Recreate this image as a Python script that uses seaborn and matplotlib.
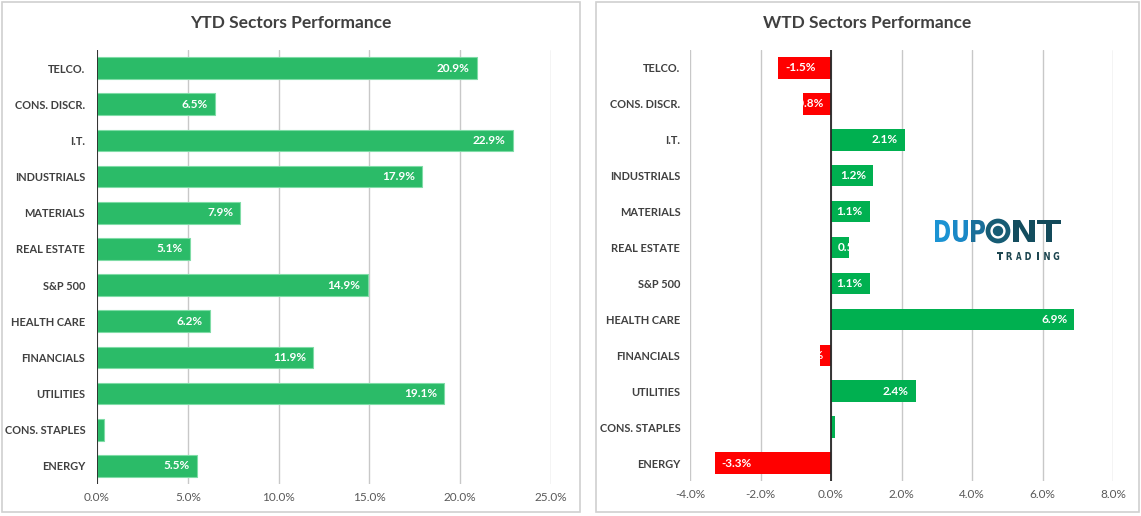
"""
Sector performance - YTD vs WTD horizontal bars
"""

import pandas as pd
import matplotlib.pyplot as plt
import seaborn as sns
from matplotlib.patches import Rectangle, Circle, PathPatch
from matplotlib.textpath import TextPath
from matplotlib.font_manager import FontProperties
from matplotlib.transforms import Affine2D
from matplotlib.ticker import FuncFormatter

# %% data

sectors = ['TELCO.', 'CONS. DISCR.', 'I.T.', 'INDUSTRIALS', 'MATERIALS', 'REAL ESTATE',
           'S&P 500', 'HEALTH CARE', 'FINANCIALS', 'UTILITIES', 'CONS. STAPLES', 'ENERGY']
ytd = [20.9, 6.5, 22.9, 17.9, 7.9, 5.1, 14.9, 6.2, 11.9, 19.1, 0.4, 5.5]
wtd = [-1.5, -0.8, 2.1, 1.2, 1.1, 0.5, 1.1, 6.9, -0.3, 2.4, 0.1, -3.3]

ytd_ticks = [0, 5, 10, 15, 20, 25]
wtd_ticks = [-4, -2, 0, 2, 4, 6, 8]

YTD_GREEN = '#2bbb68'
WTD_GREEN = '#00b050'
WTD_RED = '#ff0000'
TXT = '#404040'

sns.set_theme(style='white')
plt.rcParams['font.family'] = ['Lato', 'DejaVu Sans']

W, H = 1141, 516
fig = plt.figure(figsize=(W / 100, H / 100), dpi=100)
fig.patch.set_facecolor('white')

df_ytd = pd.DataFrame({'sector': sectors, 'value': ytd})
df_wtd = pd.DataFrame({'sector': sectors, 'value': wtd})
df_wtd['sign'] = ['pos' if v >= 0 else 'neg' for v in wtd]


def px_axes(left, top, right, bottom):
    return fig.add_axes([left / W, 1 - bottom / H, (right - left) / W, (bottom - top) / H])


ax1 = px_axes(97, 50, 551, 484)
ax2 = px_axes(690, 50, 1113, 481)

sns.barplot(data=df_ytd, x='value', y='sector', orient='h', color=YTD_GREEN,
            width=0.6, saturation=1, edgecolor='#7fdca6', linewidth=0.8, ax=ax1)
sns.barplot(data=df_wtd, x='value', y='sector', orient='h', hue='sign',
            palette={'pos': WTD_GREEN, 'neg': WTD_RED}, dodge=False, legend=False,
            width=0.6, saturation=1, linewidth=0, ax=ax2)

pct = FuncFormatter(lambda v, _: f'{v:.1f}%')


def style(ax, lim, ticks, ypad):
    ax.set_xlim(lim)
    ax.set_xticks(ticks)
    ax.xaxis.set_major_formatter(pct)
    ax.set_xlabel('')
    ax.set_ylabel('')
    for s in ax.spines.values():
        s.set_visible(False)
    ax.grid(axis='x', color='#c8c8c8', linewidth=1)
    ax.grid(axis='y', visible=False)
    ax.set_axisbelow(True)
    ax.axvline(0, color='#262626', linewidth=1.3, zorder=5)
    ax.tick_params(axis='x', length=0, pad=6, labelsize=8.5, labelcolor='#595959')
    ax.tick_params(axis='y', length=0, pad=ypad, labelsize=7.9, labelcolor=TXT)
    for t in ax.get_yticklabels():
        t.set_fontweight('bold')


style(ax1, (0, 25), ytd_ticks, 8.5)
style(ax2, (-4, 8), wtd_ticks, 7)

# %% value labels inside bar ends, clipped by the bar
fig.canvas.draw()
renderer = fig.canvas.get_renderer()


def label_bars(ax):
    for p in ax.patches:
        w = p.get_width()
        if w != w or w == 0:
            continue
        y = p.get_y() + p.get_height() / 2
        t = ax.annotate(f'{w:.1f}%', xy=(w, y), xytext=(-5 if w > 0 else 5, 0),
                        textcoords='offset points', ha='right' if w > 0 else 'left',
                        va='center', color='white', fontweight='bold', fontsize=8.5,
                        zorder=6)
        tw = t.get_window_extent(renderer).width
        bw = abs(ax.transData.transform((w, 0))[0] - ax.transData.transform((0, 0))[0])
        if tw + 10 > bw:
            # does not fit: anchor at the base instead
            t.xy = (0, y)
            t.set_position((5 if w > 0 else -5, 0))
            t.set_ha('left' if w > 0 else 'right')
        t.set_clip_path(p)


label_bars(ax1)
label_bars(ax2)

# %% overlay in pixel coords: panel frames, titles, logo
ov = fig.add_axes([0, 0, 1, 1], zorder=10)
ov.set_xlim(0, W)
ov.set_ylim(H, 0)
ov.axis('off')
ov.patch.set_alpha(0)

ov.add_patch(Rectangle((1.5, 1.5), 578, 510, fill=False, edgecolor='#d0d0d0', linewidth=1.2))
ov.add_patch(Rectangle((595.5, 1.5), 543, 510, fill=False, edgecolor='#d0d0d0', linewidth=1.2))

ov.text(291, 23, 'YTD Sectors Performance', ha='center', va='center',
        fontsize=12.5, fontweight='bold', color=TXT)
ov.text(867, 23, 'WTD Sectors Performance', ha='center', va='center',
        fontsize=12.5, fontweight='bold', color=TXT)

logo_font = FontProperties(family='DejaVu Sans', weight='bold')


def glyph(ch, x0, x1, y0, y1, color):
    # letter path squeezed into a pixel box (y0 top, y1 bottom)
    tp = TextPath((0, 0), ch, size=1, prop=logo_font)
    ext = tp.get_extents()
    tr = (Affine2D().translate(-ext.x0, -ext.y0)
          .scale((x1 - x0) / ext.width, -(y1 - y0) / ext.height)
          .translate(x0, y1))
    ov.add_patch(PathPatch(tr.transform_path(tp), color=color, linewidth=0))


logo_letters = [('D', 935, 950, '#1b93d3'), ('U', 953, 968, '#1a88c6'),
                ('P', 971, 985, '#1a6f9a'), ('N', 1013, 1035, '#134d5e'),
                ('T', 1037, 1061, '#134a5a')]
for ch, x0, x1, c in logo_letters:
    glyph(ch, x0, x1, 220, 242, c)
ov.add_patch(Circle((998, 231), 10, fill=False, edgecolor='#165c74', linewidth=3.4))
ov.add_patch(Circle((998, 231), 4.5, color='#165c74'))
for i, ch in enumerate('TRADING'):
    xc = 1000 + i * 9.4
    glyph(ch, xc - 2.8 if ch != 'I' else xc - 0.9, xc + 2.8 if ch != 'I' else xc + 0.9,
          252, 260, '#1d4650')

fig.savefig('out.png', dpi=100)
